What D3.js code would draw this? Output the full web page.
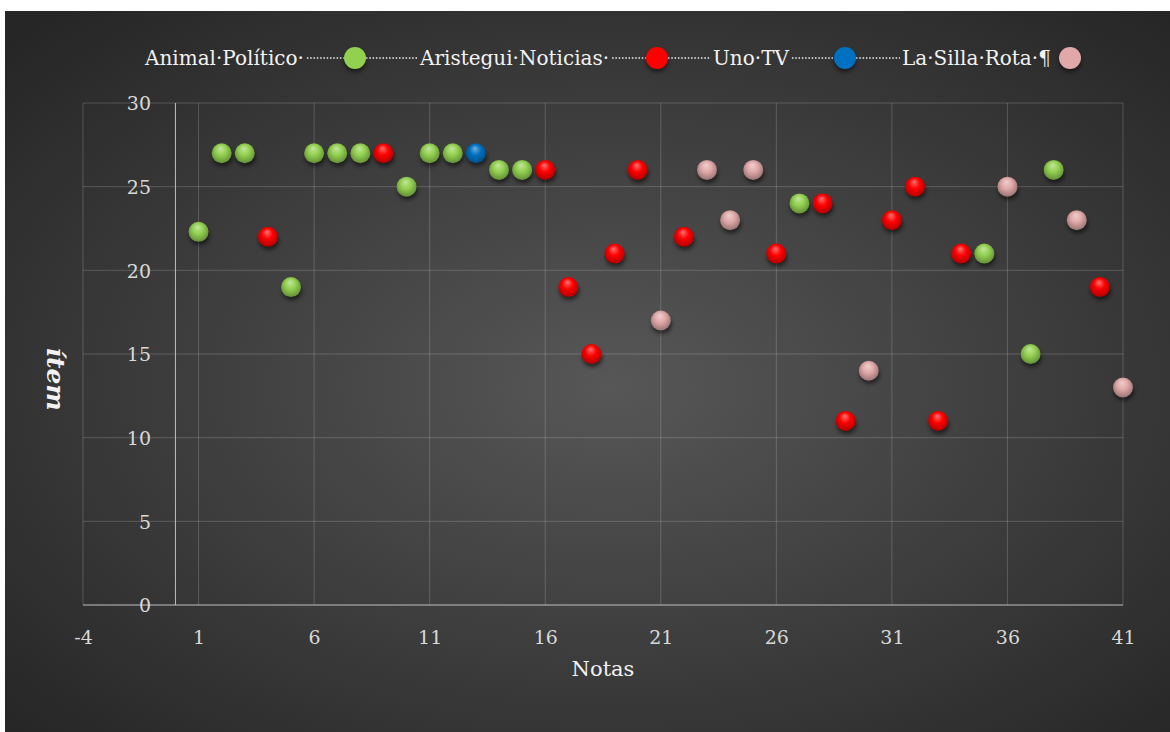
<!DOCTYPE html>
<html>
<head>
<meta charset="utf-8">
<script src="https://cdn.jsdelivr.net/npm/d3@7"></script>
<style>
  html, body { margin: 0; padding: 0; background: #fff; }
  svg { display: block; }
</style>
</head>
<body>
<div id="chart"></div>
<script>
// Data: one item per note, x = note number
const seriesNames = ["Animal·Político·", "Aristegui·Noticias·", "Uno·TV", "La·Silla·Rota·¶"];
const seriesColors = ["#92d050", "#ff0000", "#0070c0", "#e0a8a8"];
const notas = d3.range(1, 42);
const itemValues = [22.3, 27, 27, 22, 19, 27, 27, 27, 27, 25,
                    27, 27, 27, 26, 26, 26, 19, 15, 21, 26,
                    17, 22, 26, 23, 26, 21, 24, 24, 11, 14,
                    23, 25, 11, 21, 21, 25, 15, 26, 23, 19, 13];
// index into seriesNames for each note
const itemSeries = [0, 0, 0, 1, 0, 0, 0, 0, 1, 0,
                    0, 0, 2, 0, 0, 1, 1, 1, 1, 1,
                    3, 1, 3, 3, 3, 1, 0, 1, 1, 3,
                    1, 1, 1, 1, 0, 3, 0, 0, 3, 1, 3];
const xTicks = [-4, 1, 6, 11, 16, 21, 26, 31, 36, 41];
const yTicks = [0, 5, 10, 15, 20, 25, 30];

const points = notas.map((n, i) => ({ x: n, y: itemValues[i], s: itemSeries[i] }));

const width = 1170;
const height = 732;
const font = "'DejaVu Serif', serif";

const svg = d3.select("#chart").append("svg")
    .attr("width", width)
    .attr("height", height);

const defs = svg.append("defs");

// background gradient
const bg = defs.append("radialGradient")
    .attr("id", "bg")
    .attr("cx", "52%").attr("cy", "52%").attr("r", "70%");
bg.append("stop").attr("offset", "0%").attr("stop-color", "#575757");
bg.append("stop").attr("offset", "100%").attr("stop-color", "#262626");

// sphere gradients
seriesColors.forEach((c, i) => {
    const g = defs.append("radialGradient")
        .attr("id", "ball" + i)
        .attr("cx", "50%").attr("cy", "45%").attr("r", "60%")
        .attr("fx", "45%").attr("fy", "25%");
    g.append("stop").attr("offset", "0%").attr("stop-color", d3.interpolateRgb(c, "#fff")(0.45));
    g.append("stop").attr("offset", "45%").attr("stop-color", c);
    g.append("stop").attr("offset", "100%").attr("stop-color", d3.color(c).darker(1.2));
});

const blur = defs.append("filter").attr("id", "shadow")
    .attr("x", "-50%").attr("y", "-50%").attr("width", "200%").attr("height", "200%");
blur.append("feGaussianBlur").attr("stdDeviation", 2);

svg.append("rect")
    .attr("x", 5).attr("y", 11)
    .attr("width", width - 5).attr("height", height - 11)
    .attr("fill", "url(#bg)");

// Scales
const x = d3.scaleLinear().domain([-4, 41]).range([83, 1123]);
const y = d3.scaleLinear().domain([0, 30]).range([605, 103]);

// Grid lines
svg.append("g").selectAll("line")
    .data(yTicks.slice(1))
    .join("line")
    .attr("x1", x(-4)).attr("x2", x(41))
    .attr("y1", d => y(d)).attr("y2", d => y(d))
    .attr("stroke", "#ffffff").attr("stroke-opacity", 0.18);

svg.append("g").selectAll("line")
    .data(xTicks)
    .join("line")
    .attr("x1", d => x(d)).attr("x2", d => x(d))
    .attr("y1", y(30)).attr("y2", y(0))
    .attr("stroke", "#ffffff").attr("stroke-opacity", 0.18);

// axis lines
svg.append("line")
    .attr("x1", x(-4)).attr("x2", x(41))
    .attr("y1", y(0)).attr("y2", y(0))
    .attr("stroke", "#bfbfbf").attr("stroke-width", 1.2);
svg.append("line")
    .attr("x1", x(0)).attr("x2", x(0))
    .attr("y1", y(30)).attr("y2", y(0))
    .attr("stroke", "#bfbfbf").attr("stroke-width", 1);

// Axes labels
const yAxis = d3.axisLeft(y).tickValues(yTicks).tickSize(0).tickPadding(0);
const yg = svg.append("g").attr("transform", `translate(${x(-4) + 68},0)`).call(yAxis);
yg.select(".domain").remove();
yg.selectAll("text")
    .attr("fill", "#d9d9d9")
    .style("font-family", font)
    .style("font-size", "19px")
    .attr("dy", "0.36em");

const xAxis = d3.axisBottom(x).tickValues(xTicks).tickSize(0).tickPadding(0)
    .tickFormat(d => String(d));
const xg = svg.append("g").attr("transform", `translate(0,${y(0) + 25})`).call(xAxis);
xg.select(".domain").remove();
xg.selectAll("text")
    .attr("fill", "#d9d9d9")
    .style("font-family", font)
    .style("font-size", "19px");

svg.append("text")
    .attr("x", x(18.5)).attr("y", 676)
    .attr("text-anchor", "middle")
    .attr("fill", "#f2f2f2")
    .style("font-family", font)
    .style("font-size", "21px")
    .text("Notas");

svg.append("text")
    .attr("transform", `translate(47,${y(13.5)}) rotate(90)`)
    .attr("text-anchor", "middle")
    .attr("fill", "#f2f2f2")
    .style("font-family", font)
    .style("font-size", "25px")
    .style("font-weight", "bold")
    .style("font-style", "italic")
    .text("ítem");

// Points
const dots = svg.append("g").selectAll("g")
    .data(points)
    .join("g")
    .attr("transform", d => `translate(${x(d.x)},${y(d.y)})`);

dots.append("ellipse")
    .attr("cx", 1).attr("cy", 4)
    .attr("rx", 10).attr("ry", 9)
    .attr("fill", "#000").attr("opacity", 0.55)
    .attr("filter", "url(#shadow)");

dots.append("circle")
    .attr("r", 10)
    .attr("fill", d => `url(#ball${d.s})`);

// Legend
const legendY = 58;
const labelX = [145, 420, 713, 902];
const markerX = [355, 657, 845, 1070];
const legend = svg.append("g");

seriesNames.forEach((name, i) => {
    const t = legend.append("text")
        .attr("x", labelX[i]).attr("y", legendY + 7)
        .attr("fill", "#f2f2f2")
        .style("font-family", font)
        .style("font-size", "20px")
        .text(name);
    const end = labelX[i] + t.node().getComputedTextLength();
    if (i < 3) {
        legend.append("line")
            .attr("x1", end + 3).attr("x2", markerX[i] - 11)
            .attr("y1", legendY).attr("y2", legendY)
            .attr("stroke", "#f2f2f2").attr("stroke-width", 1.5)
            .attr("stroke-dasharray", "1.5,1.8");
        legend.append("line")
            .attr("x1", markerX[i] + 11).attr("x2", labelX[i + 1] - 2)
            .attr("y1", legendY).attr("y2", legendY)
            .attr("stroke", "#f2f2f2").attr("stroke-width", 1.5)
            .attr("stroke-dasharray", "1.5,1.8");
    }
    legend.append("circle")
        .attr("cx", markerX[i]).attr("cy", legendY + 3)
        .attr("r", 11)
        .attr("fill", "#000").attr("opacity", 0.5)
        .attr("filter", "url(#shadow)");
    legend.append("circle")
        .attr("cx", markerX[i]).attr("cy", legendY)
        .attr("r", 11)
        .attr("fill", seriesColors[i]);
});
</script>
</body>
</html>
